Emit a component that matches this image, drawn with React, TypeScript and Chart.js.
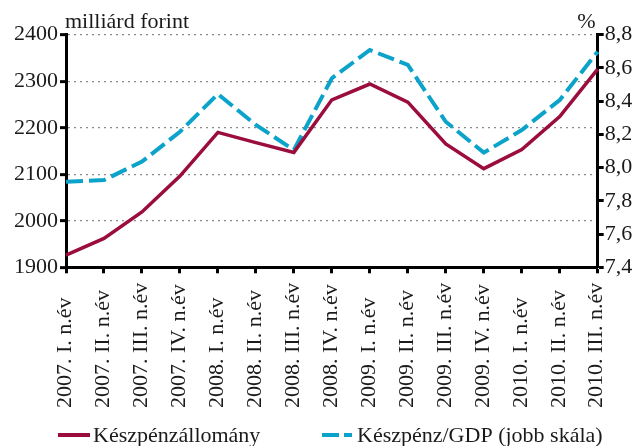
import React, { useEffect, useRef } from "react";
import { Chart, registerables } from "chart.js";

Chart.register(...registerables);

const categories = [
  "2007. I. n.év",
  "2007. II. n.év",
  "2007. III. n.év",
  "2007. IV. n.év",
  "2008. I. n.év",
  "2008. II. n.év",
  "2008. III. n.év",
  "2008. IV. n.év",
  "2009. I. n.év",
  "2009. II. n.év",
  "2009. III. n.év",
  "2009. IV. n.év",
  "2010. I. n.év",
  "2010. II. n.év",
  "2010. III. n.év",
];

const cashStock = [1926, 1962, 2019, 2096, 2190, 2168, 2147, 2260, 2294, 2255, 2165, 2112, 2153, 2224, 2326];
const cashToGdp = [7.915, 7.925, 8.036, 8.216, 8.443, 8.257, 8.106, 8.538, 8.708, 8.618, 8.276, 8.09, 8.226, 8.407, 8.698];

const seriesNames = ["Készpénzállomány", "Készpénz/GDP (jobb skála)"];
const leftTitle = "milliárd forint";
const rightTitle = "%";

const RED = "#9b0d3c";
const BLUE = "#0ba3c9";
const FONT = "'Liberation Serif', 'DejaVu Serif', serif";
const TEXT = "#1a1a1a";

const decorPlugin = {
  id: "decor",
  afterDraw(chart: any) {
    const ctx = chart.ctx;
    const xs = chart.scales.x;
    const area = chart.chartArea;
    ctx.save();
    ctx.fillStyle = TEXT;
    ctx.font = `22px ${FONT}`;
    // axis titles
    ctx.textBaseline = "alphabetic";
    ctx.textAlign = "left";
    ctx.fillText(leftTitle, area.left - 1, 28);
    ctx.textAlign = "right";
    ctx.fillText(rightTitle, area.right - 2, 28);
    // x labels, rotated, start-aligned at the bottom
    categories.forEach((lab, i) => {
      const x = xs.getPixelForTick(i);
      ctx.save();
      ctx.translate(x - 1, 408);
      ctx.rotate(-Math.PI / 2);
      ctx.textAlign = "left";
      ctx.textBaseline = "middle";
      ctx.fillText(lab, 0, 0);
      ctx.restore();
    });
    // legend
    const ly = 435;
    ctx.lineWidth = 4;
    ctx.strokeStyle = RED;
    ctx.setLineDash([]);
    ctx.beginPath();
    ctx.moveTo(58, ly);
    ctx.lineTo(90, ly);
    ctx.stroke();
    ctx.textAlign = "left";
    ctx.textBaseline = "middle";
    ctx.fillText(seriesNames[0], 93, ly + 1);
    ctx.strokeStyle = BLUE;
    ctx.setLineDash([17, 5]);
    ctx.beginPath();
    ctx.moveTo(322, ly);
    ctx.lineTo(352, ly);
    ctx.stroke();
    ctx.setLineDash([]);
    ctx.fillText(seriesNames[1], 357, ly + 1);
    ctx.restore();
  },
};

export default function App() {
  const ref = useRef<HTMLCanvasElement | null>(null);
  useEffect(() => {
    if (!ref.current) return;
    const chart = new Chart(ref.current, {
      type: "line",
      data: {
        labels: categories,
        datasets: [
          {
            label: seriesNames[0],
            data: cashStock,
            yAxisID: "y",
            borderColor: RED,
            backgroundColor: RED,
            borderWidth: 3.5,
            pointRadius: 0,
            tension: 0,
          },
          {
            label: seriesNames[1],
            data: cashToGdp,
            yAxisID: "y1",
            borderColor: BLUE,
            backgroundColor: BLUE,
            borderWidth: 4,
            borderDash: [17, 6],
            pointRadius: 0,
            tension: 0,
          },
        ],
      },
      options: {
        responsive: false,
        animation: false,
        layout: { padding: { top: 34.7, left: 0, right: 0, bottom: 0 } },
        plugins: { legend: { display: false }, tooltip: { enabled: false } },
        scales: {
          x: {
            type: "category",
            ticks: { display: false },
            grid: {
              drawOnChartArea: false,
              drawTicks: true,
              tickLength: 6,
              tickWidth: 3,
              tickColor: "#000",
            },
            border: { display: true, color: "#000", width: 3 },
            afterFit: (s: any) => {
              s.height = 178.7;
            },
          },
          y: {
            position: "left",
            min: 1900,
            max: 2400,
            ticks: {
              stepSize: 100,
              padding: 2,
              color: TEXT,
              font: { family: FONT, size: 22 },
              callback: (v: any) => String(v),
            },
            grid: {
              drawOnChartArea: true,
              color: "#8a8a8a",
              lineWidth: 1.3,
              tickLength: 6,
              tickWidth: 3,
              tickColor: "#000",
              tickBorderDash: [],
            },
            border: { display: true, color: "#000", width: 3, dash: [2, 4] },
            afterFit: (s: any) => {
              s.width = 66;
            },
          },
          y1: {
            position: "right",
            min: 7.4,
            max: 8.8,
            ticks: {
              stepSize: 0.2,
              padding: 1,
              color: TEXT,
              font: { family: FONT, size: 22 },
              callback: (v: any) => Number(v).toFixed(1).replace(".", ","),
            },
            grid: {
              drawOnChartArea: false,
              tickLength: 6,
              tickWidth: 3,
              tickColor: "#000",
            },
            border: { display: true, color: "#000", width: 3 },
            afterFit: (s: any) => {
              s.width = 37.3;
            },
          },
        },
      },
      plugins: [decorPlugin],
    });
    return () => chart.destroy();
  }, []);
  return (
    <div style={{ position: "absolute", left: 0, top: 0, width: 635, height: 446, background: "#fff" }}>
      <canvas ref={ref} width={635} height={446} />
    </div>
  );
}
